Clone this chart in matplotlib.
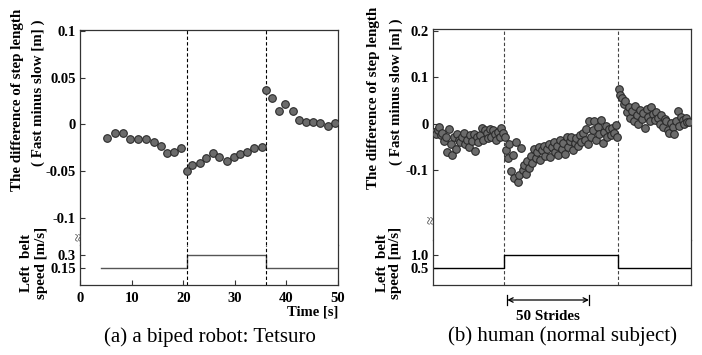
import matplotlib
matplotlib.use("Agg")
import matplotlib.pyplot as plt
import numpy as np

plt.rcParams['font.family'] = ['Liberation Serif', 'DejaVu Serif']

# ---------------- data: (a) biped robot ----------------
robot_time = [5.3, 6.8, 8.25, 9.7, 11.2, 12.8, 14.3, 15.7, 16.9, 18.2, 19.6,
              20.7, 21.8, 23.3, 24.5, 25.8, 27.0, 28.4, 29.8, 31.1, 32.4, 33.7, 35.2,
              36.0, 37.3, 38.6, 39.8, 41.2, 42.5, 43.8, 45.2, 46.6, 48.1, 49.4]
robot_diff = [-0.0140, -0.0091, -0.0087, -0.0151, -0.0151, -0.0151, -0.0183, -0.0226,
              -0.0300, -0.0297, -0.0251,
              -0.0492, -0.0428, -0.0407, -0.0361, -0.0300, -0.0350, -0.0386, -0.0350,
              -0.0315, -0.0293, -0.0251, -0.0240,
              0.0368, 0.0286, 0.0147, 0.0222, 0.0140, 0.0051, 0.0027, 0.0027, 0.0016,
              -0.0012, 0.0020]
robot_speed_t = [4.1, 20.7, 20.7, 36.0, 36.0, 50.0]
robot_speed_v = [0.15, 0.15, 0.3, 0.3, 0.15, 0.15]
robot_switch = [20.7, 36.0]

# ---------------- data: (b) human ----------------
human_phase1 = [-0.018, -0.022, -0.015, -0.008, -0.025, -0.020, -0.038, -0.030, -0.062,
                -0.012, -0.045, -0.068, -0.028, -0.055, -0.022, -0.035, -0.040, -0.030,
                -0.020, -0.045, -0.035, -0.050, -0.025, -0.038, -0.022, -0.060, -0.030,
                -0.040, -0.025, -0.010, -0.035, -0.015, -0.020, -0.032, -0.012, -0.028,
                -0.015, -0.022, -0.035, -0.018, -0.030, -0.010, -0.020]
human_phase2 = [-0.030, -0.058, -0.075, -0.045, -0.102, -0.068, -0.118, -0.040, -0.125,
                -0.110, -0.052, -0.100, -0.090, -0.108, -0.080, -0.095, -0.070, -0.085,
                -0.055, -0.075, -0.062, -0.050, -0.078, -0.058, -0.048, -0.070, -0.055,
                -0.045, -0.072, -0.050, -0.040, -0.062, -0.048, -0.068, -0.035, -0.055,
                -0.042, -0.065, -0.030, -0.050, -0.038, -0.028, -0.058, -0.042, -0.032,
                -0.048, -0.025, -0.040, -0.020, -0.035, -0.012, -0.045, 0.005, -0.028,
                -0.015, 0.006, -0.035, -0.008, -0.022, 0.007, -0.042, -0.018, -0.005,
                -0.030, -0.012, -0.025, -0.010, -0.020, -0.003, -0.028]
human_phase3 = [0.075, 0.062, 0.055, 0.042, 0.048, 0.025, 0.035, 0.012, 0.028, 0.005,
                0.038, 0.018, -0.002, 0.030, 0.010, 0.022, -0.010, 0.032, 0.015, 0.005,
                0.036, 0.020, 0.008, 0.025, 0.012, 0.000, 0.018, -0.008, 0.010, 0.005,
                -0.015, -0.020, 0.002, -0.008, -0.022, 0.005, 0.028, -0.005, 0.015,
                0.008, -0.002, 0.012, 0.004, 0.003]
human_diff = human_phase1 + human_phase2 + human_phase3
human_stride = list(range(1, len(human_diff) + 1))
human_speed_s = [0.0, 43.6, 43.6, 113.6, 113.6, 158.2]
human_speed_v = [0.5, 0.5, 1.0, 1.0, 0.5, 0.5]
human_switch = [43.6, 113.6]
arrow_span = [45.7, 95.7]

W, H = 702, 355
fig = plt.figure(figsize=(W / 100, H / 100), dpi=100)


def fx(px):
    return px / W


def fy(py):
    return 1 - py / H


bold = dict(fontweight='bold')
tick_fs = 10.5
label_fs = 10.8
marker_kw = dict(s=30, facecolor='#6b6b6b', edgecolor='#2a2a2a', linewidths=0.8, zorder=3)
spine_col = '#333333'


def style(ax, top=True, bottom=True):
    for sp in ax.spines.values():
        sp.set_color(spine_col)
        sp.set_linewidth(0.9)
    ax.spines['top'].set_visible(top)
    ax.spines['bottom'].set_visible(bottom)
    ax.tick_params(direction='in', length=3.5, width=0.8, color=spine_col,
                   labelsize=tick_fs, pad=3)
    for lbl in ax.get_yticklabels() + ax.get_xticklabels():
        lbl.set_fontweight('bold')


def brk(xpx, ypx):
    fig.text(fx(xpx), fy(ypx), '≈', rotation=90, ha='center', va='center',
             fontsize=11, color='#444444')


# ===== Panel (a) =====
L0, L1 = 80, 338
axa = fig.add_axes([fx(L0), fy(245), fx(L1 - L0), (245 - 30) / H])
axa.scatter(robot_time, robot_diff, **marker_kw)
axa.set_xlim(0, 50)
axa.set_ylim(-0.1285, 0.1007)
axa.set_yticks([0.1, 0.05, 0, -0.05, -0.1])
axa.set_yticklabels(['0.1', '0.05', '0', '-0.05', '-0.1'])
axa.set_xticks([])
style(axa, top=True, bottom=False)
for t in robot_switch:
    axa.axvline(t, color='black', lw=0.8, ls=(0, (3, 2)))

axa2 = fig.add_axes([fx(L0), fy(285), fx(L1 - L0), 40 / H])
axa2.plot(robot_speed_t, robot_speed_v, color='#555555', lw=1.0)
axa2.set_xlim(0, 50)
axa2.set_ylim(-0.054, 0.418)
axa2.set_yticks([0.3, 0.15])
axa2.set_yticklabels(['0.3', '0.15'])
axa2.set_xticks([0, 10, 20, 30, 40, 50])
style(axa2, top=False, bottom=True)
axa2.tick_params(axis='x', pad=5)
for lbl in axa2.get_xticklabels():
    lbl.set_fontweight('bold')
for t in robot_switch:
    axa2.axvline(t, color='black', lw=0.8, ls=(0, (3, 2)))

fig.text(fx(338), fy(312), 'Time [s]', ha='right', va='center', fontsize=10.5, **bold)
brk(80, 237)

fig.text(fx(18), fy(100), 'The difference of step length', rotation=90, ha='center',
         va='center', fontsize=label_fs, **bold)
fig.text(fx(38), fy(93), '( Fast minus slow [m] )', rotation=90, ha='center',
         va='center', fontsize=label_fs, **bold)
fig.text(fx(27), fy(263), 'Left  belt', rotation=90, ha='center', va='center',
         fontsize=label_fs, **bold)
fig.text(fx(41), fy(263), 'speed [m/s]', rotation=90, ha='center', va='center',
         fontsize=label_fs, **bold)
fig.text(fx(209.5), fy(337), '(a) a biped robot: Tetsuro', ha='center', va='center',
         fontsize=15)

# ===== Panel (b) =====
R0, R1 = 432.7, 691
axb = fig.add_axes([fx(R0), fy(240), fx(R1 - R0), (240 - 29.3) / H])
axb.scatter(human_stride, human_diff, **marker_kw)
axb.set_xlim(0, 158.2)
axb.set_ylim(-0.251, 0.203)
axb.set_yticks([0.2, 0.1, 0, -0.1])
axb.set_yticklabels(['0.2', '0.1', '0', '-0.1'])
axb.set_xticks([])
style(axb, top=True, bottom=False)
for s in human_switch:
    axb.axvline(s, color='#444444', lw=0.8, ls=(0, (3, 2)), zorder=1)

axb2 = fig.add_axes([fx(R0), fy(285), fx(R1 - R0), 45 / H])
axb2.plot(human_speed_s, human_speed_v, color='black', lw=1.0)
axb2.set_xlim(0, 158.2)
axb2.set_ylim(-0.18, 1.59)
axb2.set_yticks([1.0, 0.5])
axb2.set_yticklabels(['1.0', '0.5'])
axb2.set_xticks([])
style(axb2, top=False, bottom=True)
for s in human_switch:
    axb2.axvline(s, color='#444444', lw=0.8, ls=(0, (3, 2)), zorder=1)

# 50 strides arrow
ytr = axb2.get_xaxis_transform()
yarr = -(300 - 285) / 45
axb2.annotate('', xy=(arrow_span[1], yarr), xytext=(arrow_span[0], yarr),
              xycoords=ytr, textcoords=ytr, annotation_clip=False,
              arrowprops=dict(arrowstyle='<->', lw=0.9, color='black',
                              shrinkA=0, shrinkB=0, mutation_scale=8))
for s in arrow_span:
    axb2.plot([s, s], [yarr - 0.12, yarr + 0.12], transform=ytr, color='black',
              lw=0.9, clip_on=False)
fig.text(fx(548), fy(317), '50 Strides', ha='center', va='center', fontsize=10.8, **bold)

brk(432.7, 220)

fig.text(fx(373), fy(98), 'The difference of step length', rotation=90, ha='center',
         va='center', fontsize=label_fs, **bold)
fig.text(fx(396), fy(92), '( Fast minus slow [m] )', rotation=90, ha='center',
         va='center', fontsize=label_fs, **bold)
fig.text(fx(382), fy(263), 'Left  belt', rotation=90, ha='center', va='center',
         fontsize=label_fs, **bold)
fig.text(fx(396), fy(263), 'speed [m/s]', rotation=90, ha='center', va='center',
         fontsize=label_fs, **bold)
fig.text(fx(563), fy(336), '(b) human (normal subject)', ha='center', va='center',
         fontsize=15)

fig.savefig('out.png', dpi=100)
